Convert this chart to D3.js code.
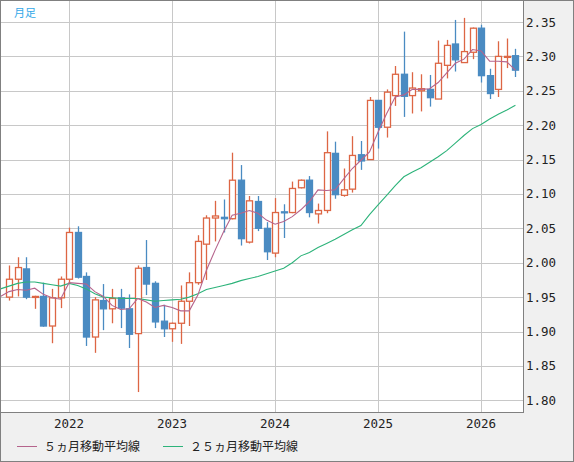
<!DOCTYPE html>
<html><head><meta charset="utf-8">
<script src="https://cdn.jsdelivr.net/npm/d3@7"></script>
<style>body{margin:0;background:#fff}svg{display:block}</style>
</head><body><div id="c"></div>
<script>
// months from Jun 2021 (index 0) to May 2026 (index 59)
const opens  = [1.950,1.976,1.991,1.950,1.951,1.908,1.949,1.976,2.044,1.980,1.892,1.945,1.933,1.949,1.933,1.897,1.993,1.970,1.915,1.904,1.912,1.944,1.971,2.027,2.065,2.066,2.064,2.120,2.030,2.089,2.050,2.014,2.074,2.073,2.109,2.120,2.071,2.076,2.159,2.098,2.107,2.157,2.150,2.236,2.197,2.243,2.274,2.243,2.250,2.252,2.238,2.287,2.318,2.291,2.306,2.341,2.272,2.252,2.300,2.301];
const closes = [1.976,1.993,1.950,1.951,1.908,1.949,1.976,2.044,1.979,1.892,1.946,1.933,1.948,1.934,1.896,1.992,1.969,1.914,1.904,1.912,1.944,1.971,2.031,2.065,2.068,2.064,2.120,2.035,2.090,2.050,2.016,2.073,2.073,2.108,2.120,2.073,2.076,2.160,2.099,2.106,2.156,2.148,2.236,2.197,2.248,2.274,2.242,2.254,2.253,2.240,2.290,2.316,2.295,2.307,2.341,2.272,2.246,2.300,2.300,2.280];
const highs  = [1.996,2.008,2.008,1.952,1.971,1.962,1.980,2.051,2.053,1.986,1.950,1.969,1.962,1.962,1.954,1.996,2.033,1.973,1.939,1.913,1.967,1.986,2.040,2.069,2.090,2.092,2.160,2.142,2.097,2.097,2.059,2.094,2.085,2.118,2.121,2.126,2.086,2.191,2.176,2.137,2.184,2.177,2.241,2.236,2.252,2.286,2.336,2.277,2.274,2.273,2.323,2.324,2.353,2.356,2.342,2.346,2.282,2.322,2.326,2.311];
const lows   = [1.945,1.951,1.947,1.933,1.907,1.883,1.934,1.970,1.977,1.879,1.869,1.902,1.912,1.905,1.876,1.812,1.953,1.905,1.892,1.885,1.882,1.908,1.968,1.975,2.031,2.044,2.063,2.025,2.028,2.046,2.004,2.008,2.036,2.072,2.108,2.066,2.057,2.072,2.093,2.096,2.102,2.135,2.150,2.166,2.182,2.228,2.212,2.217,2.220,2.227,2.238,2.268,2.278,2.291,2.296,2.262,2.238,2.241,2.283,2.270];
// moving averages, index -1 .. 59
const ma5  = [1.951,1.958,1.961,1.960,1.963,1.954,1.949,1.947,1.971,1.970,1.969,1.958,1.951,1.938,1.932,1.933,1.948,1.943,1.935,1.938,1.935,1.930,1.930,1.953,1.989,2.018,2.045,2.069,2.072,2.076,2.072,2.062,2.056,2.060,2.067,2.077,2.089,2.106,2.105,2.106,2.122,2.137,2.149,2.161,2.190,2.217,2.241,2.244,2.252,2.252,2.253,2.262,2.276,2.290,2.296,2.310,2.308,2.293,2.293,2.292,2.280];
const ma25 = [1.962,1.966,1.970,1.972,1.972,1.970,1.968,1.966,1.970,1.967,1.962,1.955,1.950,1.949,1.948,1.948,1.948,1.946,1.944,1.945,1.946,1.947,1.950,1.955,1.961,1.964,1.967,1.970,1.974,1.977,1.980,1.984,1.988,1.992,2.000,2.010,2.015,2.022,2.028,2.034,2.041,2.048,2.054,2.070,2.084,2.098,2.112,2.125,2.132,2.138,2.146,2.154,2.163,2.174,2.185,2.195,2.201,2.209,2.216,2.222,2.229];
const yTicks = [1.80,1.85,1.90,1.95,2.00,2.05,2.10,2.15,2.20,2.25,2.30,2.35];
const yearLabels = ["2022","2023","2024","2025","2026"];
const yearIdx = [7,19,31,43,55];

const W=574,H=462, PR=523, PB=412;
const svg=d3.select("#c").append("svg").attr("width",W).attr("height",H);
svg.append("rect").attr("width",W).attr("height",H).attr("fill","#f0f0f0");
svg.append("rect").attr("x",0).attr("y",0).attr("width",PR).attr("height",PB).attr("fill","#fff");
const x=d3.scaleLinear().domain([-1.05,60.0]).range([0,PR+1]);
const y=d3.scaleLinear().domain([1.80,2.35]).range([400.3,22]);
const g=svg.append("g");
g.selectAll(".hg").data(yTicks).join("line").attr("x1",0).attr("x2",PR).attr("y1",d=>Math.round(y(d))+0.5).attr("y2",d=>Math.round(y(d))+0.5).attr("stroke","#c8c8c8");
g.selectAll(".vg").data(yearIdx).join("line").attr("y1",0).attr("y2",PB).attr("x1",d=>Math.round(x(d))+0.5).attr("x2",d=>Math.round(x(d))+0.5).attr("stroke","#c8c8c8");
const idx=d3.range(opens.length);
const up="#dd6644", dn="#4a8bc2";
g.selectAll(".wk").data(idx).join("line").attr("x1",i=>Math.round(x(i))+0.5).attr("x2",i=>Math.round(x(i))+0.5)
 .attr("y1",i=>y(highs[i])).attr("y2",i=>y(lows[i])).attr("stroke",i=>closes[i]>=opens[i]?up:dn).attr("stroke-width",1.3);
g.selectAll(".bd").data(idx).join("rect")
 .attr("x",i=>Math.round(x(i))-2.5).attr("width",6)
 .attr("y",i=>y(Math.max(opens[i],closes[i]))).attr("height",i=>Math.max(1,Math.abs(y(opens[i])-y(closes[i]))))
 .attr("fill",i=>closes[i]>=opens[i]?"#fff":dn).attr("stroke",i=>closes[i]>=opens[i]?up:dn).attr("stroke-width",1.3);
const line=d3.line().x((d,i)=>x(i-1)).y(d=>y(d));
g.append("path").attr("d",line(ma25)).attr("fill","none").attr("stroke","#2db37a").attr("stroke-width",1.1);
g.append("path").attr("d",line(ma5)).attr("fill","none").attr("stroke","#b5648c").attr("stroke-width",1.1);
svg.append("rect").attr("x",0.5).attr("y",0.5).attr("width",PR).attr("height",PB).attr("fill","none").attr("stroke","#808080");
svg.append("rect").attr("x",0.5).attr("y",0.5).attr("width",W-1).attr("height",H-1).attr("fill","none").attr("stroke","#808080");
const font="'DejaVu Sans Mono', monospace";
svg.selectAll(".yl").data(yTicks).join("text").attr("x",526).attr("y",d=>y(d)+4.5).text(d=>d.toFixed(2))
 .attr("font-family",font).attr("font-size",12.5).attr("fill","#222");
svg.selectAll(".xl").data(yearIdx).join("text").attr("x",d=>x(d)).attr("y",428).attr("text-anchor","middle").text((d,i)=>yearLabels[i])
 .attr("font-family",font).attr("font-size",12.5).attr("fill","#222");
svg.append("text").attr("x",14).attr("y",17).text("月足").attr("font-family","'Noto Sans CJK JP'").attr("font-size",11).attr("fill","#33a8e8");
const leg=[{t:"５ヵ月移動平均線",c:"#b5648c",x:17},{t:"２５ヵ月移動平均線",c:"#2db37a",x:163}];
leg.forEach(l=>{
 svg.append("line").attr("x1",l.x).attr("x2",l.x+20).attr("y1",446.5).attr("y2",446.5).attr("stroke",l.c);
 svg.append("text").attr("x",l.x+27).attr("y",451).text(l.t).attr("font-family","'Noto Sans CJK JP'").attr("font-size",12).attr("fill","#222");
});
</script></body></html>
